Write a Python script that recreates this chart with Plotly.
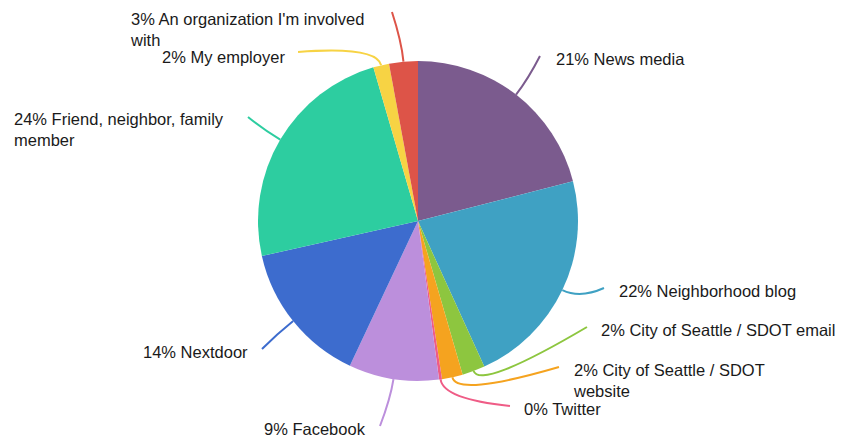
import math
import plotly.graph_objects as go

# ---- data ----
categories = [
    "News media",
    "Neighborhood blog",
    "City of Seattle / SDOT email",
    "City of Seattle / SDOT<br>website",
    "Twitter",
    "Facebook",
    "Nextdoor",
    "Friend, neighbor, family<br>member",
    "My employer",
    "An organization I'm involved<br>with",
]
values = [21.0, 22.2, 2.3, 2.1, 0.3, 9.1, 14.5, 24.0, 1.6, 2.9]
colors = ["#7B5B8E", "#3FA1C3", "#8DC63F", "#F5A31F", "#EF5C86",
          "#BC8FDC", "#3D6CCE", "#2DCDA0", "#F7D344", "#DD5448"]

# ---- layout settings (page pixels) ----
PAGE_W, PAGE_H = 846, 445
OFF = 8                      # default body margin of the html page
W, H = PAGE_W - OFF, PAGE_H - OFF
CX, CY, R = 418, 221, 160
FS = 16.5
# label: (text x, first-line centre y, xanchor, connector tail point)
label_pos = [
    (556, 60, "left", (540, 56)),
    (619, 292, "left", (604, 288)),
    (601, 331, "left", (587, 327)),
    (573, 371, "left", (559, 367)),
    (524, 410, "left", (510, 406)),
    (366, 430, "right", (380, 426)),
    (248, 353, "right", (262, 349)),
    (14, 120, "left", (248, 117)),
    (285, 58, "right", (298, 52)),
    (130, 20, "left", (392, 12)),
]

def px(x):
    return (x - OFF) / W

def py(y):
    return 1 - (y - OFF) / H

fig = go.Figure(go.Pie(
    labels=categories,
    values=values,
    sort=False,
    direction="clockwise",
    rotation=0,
    marker=dict(colors=colors, line=dict(width=0)),
    textinfo="none",
    hoverinfo="label+percent",
    domain=dict(x=[px(CX - R), px(CX + R)], y=[py(CY + R), py(CY - R)]),
    showlegend=False,
))

total = sum(values)
cum = 0.0
shapes = []
annotations = []
for cat, v, col, (tx, ty, anchor, tail) in zip(categories, values, colors, label_pos):
    mid = (cum + v / 2) / total
    cum += v
    th = 2 * math.pi * mid
    ex, ey = CX + R * math.sin(th), CY - R * math.cos(th)
    cx_, cy_ = CX + (R + 20) * math.sin(th), CY - (R + 20) * math.cos(th)
    path = "M {:.4f} {:.4f} Q {:.4f} {:.4f} {:.4f} {:.4f}".format(
        px(ex), py(ey), px(cx_), py(cy_), px(tail[0]), py(tail[1]))
    shapes.append(dict(type="path", path=path, xref="paper", yref="paper",
                       line=dict(color=col, width=2)))
    pct = round(100 * v / total)
    shift = -2 if anchor == "left" else 2
    annotations.append(dict(
        text="{}% {}".format(pct, cat), x=px(tx + shift), y=py(ty - 12),
        xref="paper", yref="paper",
        xanchor=anchor, yanchor="top", showarrow=False, align="left",
        font=dict(family="Liberation Sans, Arial, sans-serif", size=FS, color="#1a1a1a"),
    ))

fig.update_layout(
    width=W, height=H,
    margin=dict(l=0, r=0, t=0, b=0),
    paper_bgcolor="white", plot_bgcolor="white",
    shapes=shapes, annotations=annotations,
)
fig.write_html("out.html")
